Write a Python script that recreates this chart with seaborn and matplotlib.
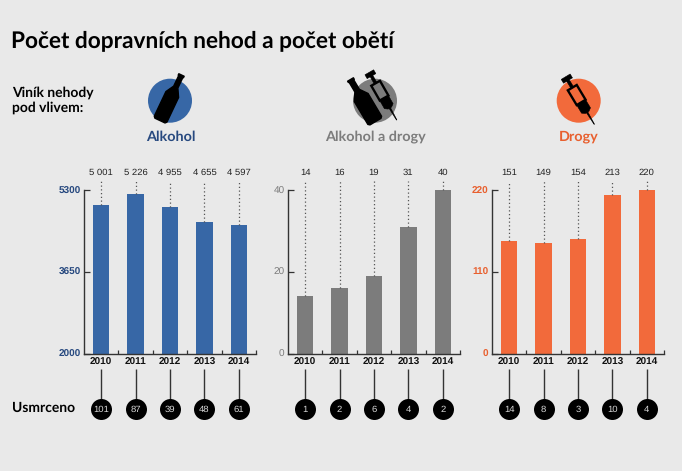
import numpy as np
import pandas as pd
import matplotlib
matplotlib.use('Agg')
import matplotlib.pyplot as plt
from matplotlib.patches import Circle, Polygon
import seaborn as sns

# data
years = ['2010', '2011', '2012', '2013', '2014']
alkohol = [5001, 5226, 4955, 4655, 4597]
alkohol_drogy = [14, 16, 19, 31, 40]
drogy = [151, 149, 154, 213, 220]
alkohol_labels = ['5 001', '5 226', '4 955', '4 655', '4 597']
usmrceno_alkohol = [101, 87, 39, 48, 61]
usmrceno_oba = [1, 2, 6, 4, 2]
usmrceno_drogy = [14, 8, 3, 10, 4]
names = ['Alkohol', 'Alkohol a drogy', 'Drogy']
y_ticks = [[2000, 3650, 5300], [0, 20, 40], [0, 110, 220]]

BG = '#e9e9e9'
BLUE = '#3767a6'
GRAY = '#7c7c7c'
ORANGE = '#f26a3b'
DARK_BLUE = '#27497f'
TICK_ORANGE = '#e8602f'
W, H = 682, 471

sns.set_theme(style='white')
plt.rcParams['font.family'] = ['Liberation Sans', 'DejaVu Sans']
plt.rcParams['figure.facecolor'] = BG
plt.rcParams['savefig.facecolor'] = BG
plt.rcParams['text.hinting'] = 'no_hinting'

fig = plt.figure(figsize=(W / 100, H / 100), dpi=100)


def px_axes(left, top, right, bottom):
    return fig.add_axes([left / W, 1 - bottom / H, (right - left) / W, (bottom - top) / H])


def draw_panel(left, values, deaths, ticks, color, tick_color, labels, tick_weight):
    ax = px_axes(left, 190, left + 172, 353.5)
    ax.set_facecolor('none')
    sns.barplot(x=years, y=values, color=color, saturation=1, width=0.48, linewidth=0, ax=ax)
    ax.set_xlim(-0.5, 4.5)
    ax.set_ylim(ticks[0], ticks[-1])
    ax.set_xlabel('')
    ax.set_ylabel('')
    ax.set_yticks(ticks)
    ax.set_xticks(np.arange(5))
    ax.set_xticks(np.arange(5) + 0.5, minor=True)
    ax.tick_params(axis='x', which='major', length=0, pad=3, labelsize=7.2, labelcolor='#111111')
    ax.tick_params(axis='x', which='minor', length=3, width=0.9, direction='in', color='#333333', bottom=True)
    ax.tick_params(axis='y', length=4, width=0.9, direction='in', color='#333333', left=True,
                   pad=2.5, labelsize=7.2, labelcolor=tick_color)
    for t in ax.get_xticklabels():
        t.set_fontweight('bold')
    for t in ax.get_yticklabels():
        t.set_fontweight(tick_weight)
    for side in ['top', 'right']:
        ax.spines[side].set_visible(False)
    for side in ['left', 'bottom']:
        ax.spines[side].set_color('#333333')
        ax.spines[side].set_linewidth(1.0)

    # dotted leaders up to the value labels
    span = ticks[-1] - ticks[0]
    for i, v in enumerate(values):
        ax.plot([i, i], [v, ticks[-1] + 0.055 * span], color='#555555', lw=0.9,
                ls=(0, (1, 2)), clip_on=False, zorder=1)
        ax.text(i, ticks[-1] + 0.112 * span, labels[i], ha='center', va='center_baseline',
                fontsize=6.8, color='#222222', clip_on=False)

    # killed: stems and black discs below the years
    low = px_axes(left, 366, left + 172, 424)
    low.set_xlim(-0.5, 4.5)
    low.set_ylim(58, 0)
    low.axis('off')
    low.patch.set_visible(False)
    x = np.arange(5)
    low.vlines(x, 3, 43, color='#333333', lw=1.0, zorder=1)
    low.scatter(x, [43] * 5, s=(21 * 0.72) ** 2, color='black', zorder=2, linewidths=0, clip_on=False)
    for i, d in enumerate(deaths):
        low.text(i, 43, str(d), ha='center', va='center_baseline', fontsize=6.8, color='#d8d8d8', zorder=3)


draw_panel(84, alkohol, usmrceno_alkohol, y_ticks[0], BLUE, DARK_BLUE, alkohol_labels, 'bold')
draw_panel(288, alkohol_drogy, usmrceno_oba, y_ticks[1], GRAY, GRAY,
           [str(v) for v in alkohol_drogy], 'normal')
draw_panel(492, drogy, usmrceno_drogy, y_ticks[2], ORANGE, TICK_ORANGE,
           [str(v) for v in drogy], 'bold')

# overlay in pixel coordinates for texts and icons
top = fig.add_axes([0, 0, 1, 1], zorder=10)
top.set_xlim(0, W)
top.set_ylim(H, 0)
top.axis('off')
top.patch.set_visible(False)


def local_poly(p0, p1, pts, **kw):
    p0 = np.array(p0, float)
    p1 = np.array(p1, float)
    d = p1 - p0
    L = np.hypot(*d)
    u = d / L
    n = np.array([-u[1], u[0]])
    xy = [p0 + a * L * u + b * n for a, b in pts]
    top.add_patch(Polygon(xy, closed=True, **kw))


def bottle(p0, p1, w):
    pts = [(0.02, -w * 0.8), (0.05, -w), (0.58, -w), (0.74, -0.33 * w), (0.97, -0.33 * w), (0.97, -0.42 * w),
           (1, -0.42 * w), (1, 0.42 * w), (0.97, 0.42 * w), (0.97, 0.33 * w), (0.74, 0.33 * w), (0.58, w),
           (0.05, w), (0.02, w * 0.8)]
    local_poly(p0, p1, pts, fc='black', ec='black', lw=1.0, joinstyle='round')


def syringe(p0, p1, w):
    k = dict(fc='black', ec='black', lw=0.4)
    local_poly(p0, p1, [(0, -0.2), (0.29, -0.9), (0.29, 0.9), (0, 0.2)], **k)
    local_poly(p0, p1, [(0.25, -w * 0.4), (0.29, -w), (0.46, -w), (0.46, w), (0.29, w), (0.25, w * 0.4)], **k)
    local_poly(p0, p1, [(0.46, -w), (0.77, -w), (0.77, w), (0.46, w)], fc='none', ec='black', lw=1.7)
    local_poly(p0, p1, [(0.77, -1.5), (0.95, -1.5), (0.95, 1.5), (0.77, 1.5)], **k)
    local_poly(p0, p1, [(0.92, -w), (1, -w), (1, w), (0.92, w)], **k)


top.add_patch(Circle((170, 100.7), 22, fc=BLUE, ec='none'))
top.add_patch(Circle((375, 100.7), 22, fc=GRAY, ec='none'))
top.add_patch(Circle((578.7, 100.7), 22, fc=ORANGE, ec='none'))
bottle((159.5, 121.5), (181.5, 75), 7)
bottle((376, 122.5), (350.5, 79.5), 8)
syringe((396.7, 120), (369.3, 72.3), 5)
syringe((594.3, 124.3), (565.7, 76.7), 5.2)

head = ['Lato', 'Liberation Sans']
top.text(11, 41, 'Počet dopravních nehod a počet obětí', fontsize=16.3, fontweight='bold',
         family=head, color='black', va='center', ha='left')
top.text(12.5, 92.5, 'Viník nehody', fontsize=10, fontweight='bold', family=head, color='black', va='center')
top.text(12.5, 108, 'pod vlivem:', fontsize=10, fontweight='bold', family=head, color='black', va='center')
top.text(12, 408, 'Usmrceno', fontsize=10, fontweight='bold', family=head, color='black', va='center')
for cx, name, c in zip([170.5, 375, 578.7], names, [DARK_BLUE, GRAY, TICK_ORANGE]):
    top.text(cx, 136.5, name, fontsize=10.4, fontweight='bold', family=head, color=c,
             ha='center', va='center')

fig.savefig('out.png', dpi=100)
